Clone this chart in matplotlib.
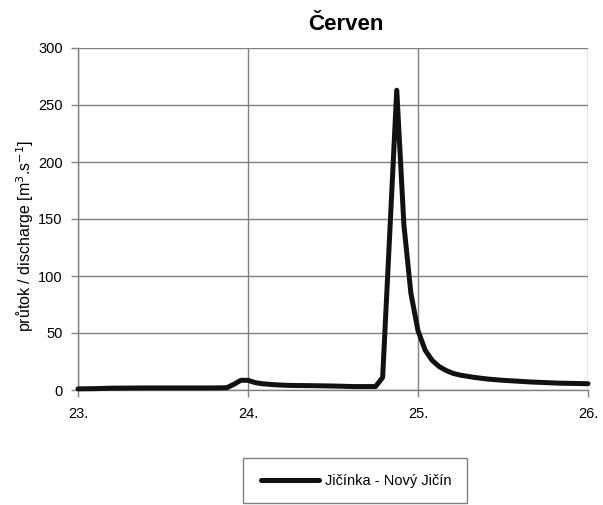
import matplotlib
matplotlib.use("Agg")
import matplotlib.pyplot as plt
from matplotlib.patches import Rectangle

plt.rcParams['font.family'] = ['Liberation Sans', 'DejaVu Sans']

# data (time in days of the month, discharge m3/s)
time_days = [23.0, 23.1, 23.2, 23.4, 23.6, 23.8, 23.875, 23.917, 23.958, 24.0,
             24.042, 24.083, 24.167, 24.25, 24.375, 24.5, 24.625, 24.75, 24.792,
             24.833, 24.875, 24.917, 24.958, 25.0, 25.042, 25.083, 25.125, 25.167,
             25.208, 25.25, 25.333, 25.417, 25.5, 25.667, 25.833, 26.0]
discharge = [1.0, 1.2, 1.6, 1.8, 1.8, 1.8, 2.0, 5.0, 8.5, 8.5,
             6.5, 5.5, 4.5, 4.0, 3.8, 3.5, 3.0, 3.0, 11.0,
             135, 263, 145, 85, 52, 35, 26, 20.5, 17,
             14.5, 13, 11, 9.5, 8.5, 7, 6, 5.5]
x_ticks = [23, 24, 25, 26]
x_labels = ["23.", "24.", "25.", "26."]
y_ticks = [0, 50, 100, 150, 200, 250, 300]
title = "Červen"
series_name = "Jičínka - Nový Jičín"
y_label = "průtok / discharge [m$^3$.s$^{-1}$]"

W, H = 603, 505
fig = plt.figure(figsize=(W / 100, H / 100), dpi=100)
ax = fig.add_axes([78 / W, 1 - 390 / H, (588 - 78) / W, (390 - 48) / H])

line, = ax.plot(time_days, discharge, color='#111111', lw=3.6,
                solid_joinstyle='round', solid_capstyle='round', zorder=3,
                clip_on=False)

ax.set_xlim(23, 26)
ax.set_ylim(0, 300)
ax.set_xticks(x_ticks)
ax.set_xticklabels(x_labels)
ax.set_yticks(y_ticks)
ax.grid(True, color='#808080', lw=1.0)
for s in ['top', 'right']:
    ax.spines[s].set_visible(False)
for s in ['left', 'bottom']:
    ax.spines[s].set_color('#808080')
    ax.spines[s].set_linewidth(1.0)
ax.tick_params(axis='both', colors='#808080', length=5, width=1.0,
               labelcolor='black', labelsize=10.5)
ax.tick_params(axis='x', pad=7)
ax.tick_params(axis='y', pad=6)

fig.text(346 / W, 1 - 24 / H, title, ha='center', va='center',
         fontsize=16, fontweight='bold')
fig.text(25 / W, 1 - 236 / H, y_label, ha='center', va='center',
         rotation=90, fontsize=11.5)

# legend box
fig.patches.append(Rectangle((243 / W, 1 - 503 / H), (467 - 243) / W, (503 - 458) / H,
                             transform=fig.transFigure, fill=False,
                             edgecolor='#808080', lw=1.0))
fig.legend([line], [series_name], loc='center',
           bbox_to_anchor=(356 / W, 1 - 481 / H), frameon=False,
           handlelength=4.0, handletextpad=0.4, fontsize=10.5)

fig.savefig("out.png", dpi=100)
